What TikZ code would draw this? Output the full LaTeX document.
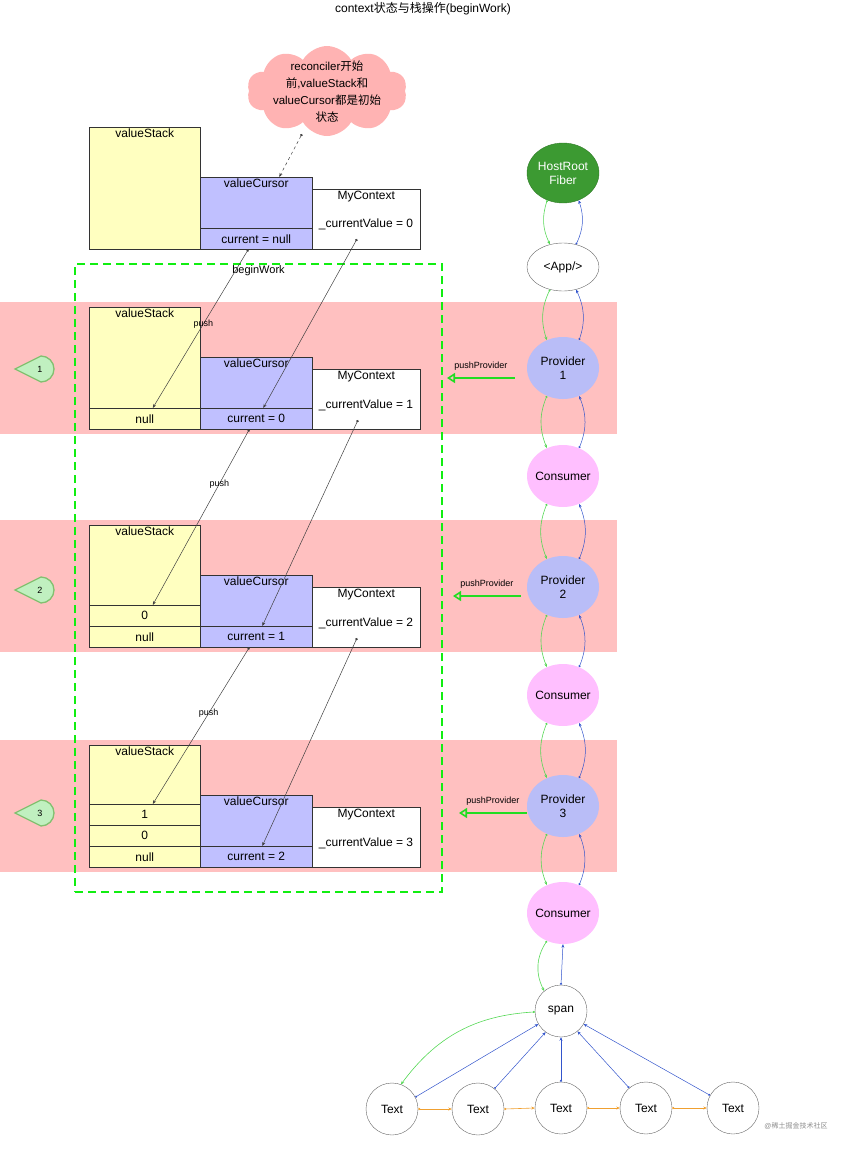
\documentclass[tikz,border=0pt]{standalone}
\usepackage{fontspec}
\setmainfont{Liberation Sans}
\newfontfamily\cjk{Noto Sans CJK SC}
\usetikzlibrary{arrows.meta, shapes.symbols, shapes.geometric}

\definecolor{bandpink}{HTML}{FFC0C0}
\definecolor{stkyellow}{HTML}{FFFFC0}
\definecolor{curblue}{HTML}{C0C0FF}
\definecolor{cloudpink}{HTML}{FFB3B3}
\definecolor{rootgreen}{HTML}{3C9A32}
\definecolor{provblue}{HTML}{B9BDF7}
\definecolor{conspink}{HTML}{FFBFFF}
\definecolor{childgreen}{HTML}{55D855}
\definecolor{retblue}{HTML}{3355CC}
\definecolor{sibor}{HTML}{F0A030}
\definecolor{pushgreen}{HTML}{22DD22}
\definecolor{bwgreen}{HTML}{11EE11}
\definecolor{markfill}{HTML}{C0F0C0}
\definecolor{markdraw}{HTML}{82C070}

\begin{document}
\begin{tikzpicture}[x=1pt, y=-1pt, font=\fontsize{12}{14}\selectfont,
  box/.style={draw=black!80, anchor=north west, inner sep=0pt, line width=0.5pt},
  stk/.style={box, fill=stkyellow, minimum width=111pt, minimum height=122pt},
  stkcell/.style={box, fill=stkyellow, minimum width=111pt, minimum height=21pt},
  cur/.style={box, fill=curblue, minimum width=112pt, minimum height=72pt},
  curcell/.style={box, fill=curblue, minimum width=112pt, minimum height=21pt},
  ctx/.style={box, fill=white, minimum width=108pt, minimum height=60pt},
  hdr/.style={label={[anchor=north, inner sep=1.5pt]north:#1}},
  small/.style={font=\fontsize{9}{10}\selectfont},
  ptr/.style={draw=black!75, line width=0.5pt, {Circle[length=2.5pt]}-{Stealth[length=4pt,width=3pt]}},
  fiber/.style={ellipse, minimum width=72pt, minimum height=62pt, inner xsep=-7pt, inner ysep=0pt, align=center},
  txt/.style={circle, draw=black!60, minimum size=52pt, inner sep=0pt},
  child/.style={draw=childgreen, line width=0.6pt, {Circle[length=2pt]}-{Stealth[length=3.5pt,width=3pt]}},
  ret/.style={draw=retblue, line width=0.5pt, {Circle[length=2pt]}-{Stealth[length=3.5pt,width=3pt]}},
  sib/.style={draw=sibor, line width=0.6pt, {Circle[length=2pt]}-{Stealth[length=3.5pt,width=3pt]}},
  pushp/.style={draw=pushgreen, line width=1.6pt, -{Triangle[open, length=8pt, width=10pt]}},
  mk/.style={draw=markdraw, fill=markfill, line width=1.3pt}]
\useasboundingbox (0,0) rectangle (847,1151);

% Titulo
\node (title) at (423,9) {context{\cjk 状态与栈操作}(beginWork)};

% Faixas
\fill[bandpink] (0,302) rectangle (617,434);
\fill[bandpink] (0,520) rectangle (617,652);
\fill[bandpink] (0,740) rectangle (617,872);

% Nuvem
\node[cloud, cloud puffs=10, cloud puff arc=120, aspect=1.6, fill=cloudpink,
  minimum width=160pt, minimum height=90pt, inner sep=0pt] (cloud) at (327,91) {};
\node[align=center, font=\fontsize{11.5}{17}\selectfont] (cloudtxt) at (327,92)
  {reconciler{\cjk 开始}\\{\cjk 前},valueStack{\cjk 和}\\valueCursor{\cjk 都是初始}\\{\cjk 状态}};
\coordinate (cloudtip) at (302,134);

% Estado inicial
\node[stk, hdr=valueStack] (s0) at (89,127) {};
\node[cur, hdr=valueCursor] (c0) at (200,177) {};
\node[curcell] (c0v) at (200,228) {current = null};
\node[ctx, hdr=MyContext] (m0) at (312,189) {};
\node (m0t) at (366,224) {\_currentValue = 0};
\coordinate (m0p) at (357,239);
\draw[ptr, dashed] (cloudtip) -- ([xshift=23pt]c0.north);

% beginWork
\node[draw=bwgreen, line width=2pt, dash pattern=on 8pt off 5pt, anchor=north west,
  minimum width=367pt, minimum height=628pt,
  label={[anchor=north, inner sep=2pt, font=\fontsize{11}{12}\selectfont]north:beginWork}] (bw) at (74,263) {};

% Provider 1
\node[stk, hdr=valueStack] (s1) at (89,307) {};
\node[stkcell] (s1a) at (89,408) {null};
\node[cur, hdr=valueCursor] (c1) at (200,357) {};
\node[curcell] (c1v) at (200,408) {current = 0};
\node[ctx, hdr=MyContext] (m1) at (312,369) {};
\node (m1t) at (366,405) {\_currentValue = 1};
\coordinate (m1p) at (358,420);

% Provider 2
\node[stk, hdr=valueStack] (s2) at (89,525) {};
\node[stkcell] (s2a) at (89,605) {0};
\node[stkcell] (s2b) at (89,626) {null};
\node[cur, hdr=valueCursor] (c2) at (200,575) {};
\node[curcell] (c2v) at (200,626) {current = 1};
\node[ctx, hdr=MyContext] (m2) at (312,587) {};
\node (m2t) at (366,623) {\_currentValue = 2};
\coordinate (m2p) at (357,638);

% Provider 3
\node[stk, hdr=valueStack] (s3) at (89,745) {};
\node[stkcell] (s3a) at (89,804) {1};
\node[stkcell] (s3b) at (89,825) {0};
\node[stkcell] (s3c) at (89,846) {null};
\node[cur, hdr=valueCursor] (c3) at (200,795) {};
\node[curcell] (c3v) at (200,846) {current = 2};
\node[ctx, hdr=MyContext] (m3) at (312,807) {};
\node (m3t) at (366,843) {\_currentValue = 3};

% push
\draw[ptr] ([xshift=-8pt]c0v.south) -- ([xshift=8pt]s1a.north) node[small, pos=0.47] {push};
\draw[ptr] (m0p) -- ([xshift=7pt]c1v.north);
\draw[ptr] ([xshift=-7pt]c1v.south) -- ([xshift=8pt]s2a.north) node[small, pos=0.31] {push};
\draw[ptr] (m1p) -- ([xshift=6pt]c2v.north);
\draw[ptr] ([xshift=-7pt]c2v.south) -- ([xshift=8pt]s3a.north) node[small, pos=0.42] {push};
\draw[ptr] (m2p) -- ([xshift=6pt]c3v.north);

% Marcadores
\draw[mk] (15,369) -- (41,356) arc[start angle=-90, end angle=90, radius=13] -- cycle;
\node[small] (n1) at (40,369) {1};
\draw[mk] (15,590) -- (41,577) arc[start angle=-90, end angle=90, radius=13] -- cycle;
\node[small] (n2) at (40,590) {2};
\draw[mk] (15,813) -- (41,800) arc[start angle=-90, end angle=90, radius=13] -- cycle;
\node[small] (n3) at (40,813) {3};

% Arvore de fibers
\node[fiber, fill=rootgreen, draw=rootgreen!80!black, text=white, minimum height=60pt] (root) at (563,173) {HostRoot\\Fiber};
\node[fiber, draw=black!60, minimum height=48pt] (app) at (563,267) {<App/>};
\node[fiber, fill=provblue] (p1) at (563,368) {Provider\\1};
\node[fiber, fill=conspink] (k1) at (563,476) {Consumer};
\node[fiber, fill=provblue] (p2) at (563,587) {Provider\\2};
\node[fiber, fill=conspink] (k2) at (563,695) {Consumer};
\node[fiber, fill=provblue] (p3) at (563,806) {Provider\\3};
\node[fiber, fill=conspink] (k3) at (563,913) {Consumer};
\node[txt] (span) at (561,1011) {span};
\node[txt] (t1) at (392,1109) {Text};
\node[txt] (t2) at (478,1109) {Text};
\node[txt] (t3) at (561,1108) {Text};
\node[txt] (t4) at (646,1108) {Text};
\node[txt] (t5) at (733,1108) {Text};

\draw[child] (root.240) to[bend right=22] (app.120);
\draw[ret] (app.60) to[bend right=22] (root.-60);
\draw[child] (app.240) to[bend right=22] (p1.120);
\draw[ret] (p1.60) to[bend right=22] (app.-60);
\draw[child] (p1.240) to[bend right=22] (k1.120);
\draw[ret] (k1.60) to[bend right=22] (p1.-60);
\draw[child] (k1.240) to[bend right=22] (p2.120);
\draw[ret] (p2.60) to[bend right=22] (k1.-60);
\draw[child] (p2.240) to[bend right=22] (k2.120);
\draw[ret] (k2.60) to[bend right=22] (p2.-60);
\draw[child] (k2.240) to[bend right=22] (p3.120);
\draw[ret] (p3.60) to[bend right=22] (k2.-60);
\draw[child] (p3.240) to[bend right=22] (k3.120);
\draw[ret] (k3.60) to[bend right=22] (p3.-60);
\draw[child] (k3.240) to[bend right=30] (span.130);
\draw[ret] (span.north) -- (k3.south);

\draw[child] (span.182) to[bend right=25] (t1.70);
\draw[ret] (t1.27) -- (span.210);
\draw[ret] (t2.51) -- (span.234);
\draw[ret] (t3.north) -- (span.south);
\draw[ret] (t4.130) -- (span.309);
\draw[ret] (t5.151) -- (span.330);
\draw[sib] (t1.east) -- (t2.west);
\draw[sib] (t2.east) -- (t3.west);
\draw[sib] (t3.east) -- (t4.west);
\draw[sib] (t4.east) -- (t5.west);

% pushProvider
\coordinate (pp1) at (447,378);
\coordinate (pp2) at (453,596);
\coordinate (pp3) at (459,813);
\draw[pushp] ([xshift=-12pt, yshift=-10pt]p1.west) -- (pp1) node[small, midway, above=4pt] {pushProvider};
\draw[pushp] ([xshift=-6pt, yshift=-9pt]p2.west) -- (pp2) node[small, midway, above=4pt] {pushProvider};
\draw[pushp] ([yshift=-7pt]p3.west) -- (pp3) node[small, midway, above=4pt] {pushProvider};

% Marca d'agua
\node[text=black!45, font=\fontsize{7}{8}\selectfont] (wm) at (796,1126) {@{\cjk 稀土掘金技术社区}};
\end{tikzpicture}
\end{document}
